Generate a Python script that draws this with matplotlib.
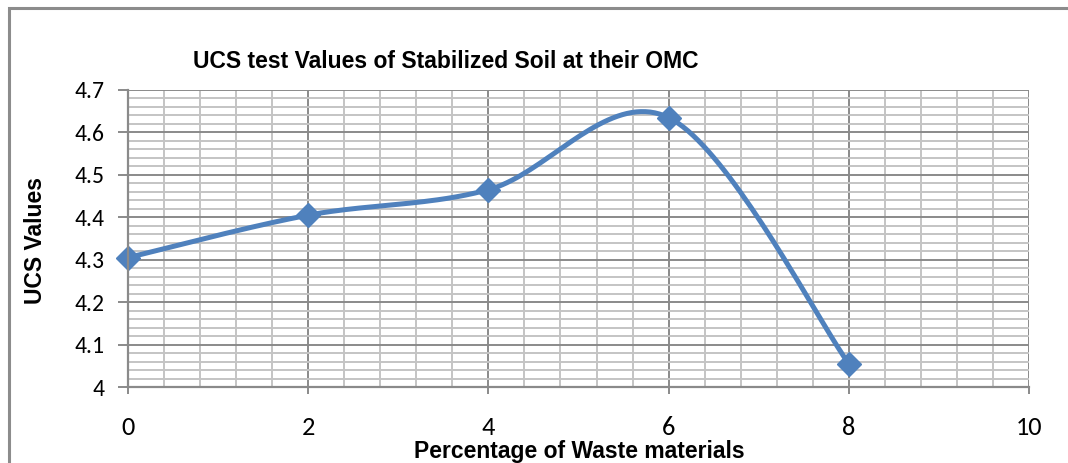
#!/usr/bin/env python3
"""UCS test values of stabilized soil at their OMC."""
import matplotlib.pyplot as plt
import numpy as np
from matplotlib.patches import Rectangle
from matplotlib.ticker import FuncFormatter, MultipleLocator
from matplotlib import font_manager

waste_pct = [0, 2, 4, 6, 8]
ucs_values = [4.305, 4.405, 4.465, 4.635, 4.055]

names = {f.name for f in font_manager.fontManager.ttflist}
narrow = "Liberation Sans Narrow" if "Liberation Sans Narrow" in names else "Liberation Sans"
tickfont = "Carlito" if "Carlito" in names else "Lato"


def smooth(x, y, n=40):
    # Excel-like smoothed line: Catmull-Rom as cubic Bezier segments
    p = np.column_stack([x, y]).astype(float)
    pts = np.vstack([p[0], p, p[-1]])
    out = []
    t = np.linspace(0, 1, n)[:, None]
    for i in range(1, len(pts) - 2):
        p0, p3 = pts[i], pts[i + 1]
        c1 = p0 + (pts[i + 1] - pts[i - 1]) / 6
        c2 = p3 - (pts[i + 2] - pts[i]) / 6
        seg = (1 - t) ** 3 * p0 + 3 * (1 - t) ** 2 * t * c1 + 3 * (1 - t) * t ** 2 * c2 + t ** 3 * p3
        out.append(seg if i == 1 else seg[1:])
    s = np.vstack(out)
    return s[:, 0], s[:, 1]


fig = plt.figure(figsize=(10.68, 4.63), dpi=100)
fig.patches.append(Rectangle((8.5 / 1068, -0.1), 1.2, 1.1 - 8.5 / 463, transform=fig.transFigure,
                             fill=False, edgecolor="#8c8c8c", linewidth=2.2))
ax = fig.add_axes([128 / 1068, 76 / 463, 901 / 1068, 297 / 463])

ax.set_xlim(0, 10)
ax.set_ylim(4.0, 4.7)
ax.xaxis.set_major_locator(MultipleLocator(2))
ax.xaxis.set_minor_locator(MultipleLocator(0.4))
ax.yaxis.set_major_locator(MultipleLocator(0.1))
ax.yaxis.set_minor_locator(MultipleLocator(0.02))
ax.yaxis.set_major_formatter(FuncFormatter(lambda v, _: f"{round(v, 1):g}"))
ax.grid(which="minor", color="#c4c4c4", linewidth=1.4)
ax.grid(which="major", color="#8a8a8a", linewidth=1.4)
ax.set_axisbelow(True)

for side in ("top", "right"):
    ax.spines[side].set_visible(False)
for side in ("left", "bottom"):
    ax.spines[side].set_color("#8a8a8a")
    ax.spines[side].set_linewidth(1.6)

ax.tick_params(which="minor", length=0)
ax.tick_params(axis="y", which="major", length=7, width=1.4, color="#8a8a8a", pad=10,
               labelsize=17, labelfontfamily=tickfont)
ax.tick_params(axis="x", which="major", length=5, width=1.4, color="#8a8a8a", pad=16,
               labelsize=19, labelfontfamily=tickfont)

sx, sy = smooth(waste_pct, ucs_values)
ax.plot(sx, sy, color="#4f81bd", linewidth=3.6, solid_capstyle="round", clip_on=False)
ax.plot(waste_pct, ucs_values, linestyle="none", marker="D", markersize=12.5,
        color="#4f81bd", clip_on=False)

fig.text(446 / 1068, 1 - 62 / 463, "UCS test Values of Stabilized Soil at their OMC",
         ha="center", va="center", fontsize=16.5, fontweight="bold", family=narrow)
fig.text(579 / 1068, 1 - 458 / 463, "Percentage of Waste materials",
         ha="center", va="baseline", fontsize=16.5, fontweight="bold", family=narrow)
fig.text(36 / 1068, 1 - 240 / 463, "UCS Values", rotation=90,
         ha="center", va="center", fontsize=16.5, fontweight="bold", family=narrow)

fig.savefig("out.png", dpi=100)
